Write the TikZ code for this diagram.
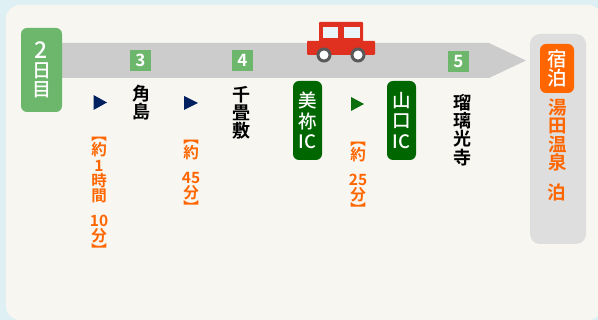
\documentclass[tikz,border=0pt]{standalone}
\usepackage{fontspec}
\setmainfont{Noto Sans CJK JP}
\newfontfamily\boldjp{Noto Sans CJK JP Bold}
\newfontfamily\mediumjp{Noto Sans CJK JP Medium}
\definecolor{skyback}{HTML}{DFF0F5}
\definecolor{panelback}{HTML}{F7F6F1}
\definecolor{daygreen}{HTML}{6DB76D}
\definecolor{icgreen}{HTML}{006600}
\definecolor{navyhead}{HTML}{00205F}
\definecolor{stayorange}{HTML}{FF6600}
\definecolor{carred}{HTML}{E03020}
\tikzset{
	daytext/.style={text=white, align=center, font=\fontsize{19}{19}\mediumjp, inner sep=0pt},
	stoptext/.style={text=black, align=center, font=\fontsize{18}{18.2}\boldjp, inner sep=0pt},
	numbox/.style={fill=daygreen, text=white, minimum size=21pt, inner sep=0pt, font=\fontsize{17}{17}\boldjp},
	icbox/.style={fill=icgreen, text=white, rounded corners=6pt, minimum width=29pt, minimum height=79pt, inner sep=0pt, align=center, font=\fontsize{18.5}{20.5}\mediumjp},
	timetext/.style={text=stayorange, align=center, font=\fontsize{15.5}{15.3}\boldjp, inner sep=0pt},
	staytext/.style={text=stayorange, align=center, font=\fontsize{18.5}{18.6}\boldjp, inner sep=0pt}
}
\begin{document}
\begin{tikzpicture}[x=1pt, y=-1pt]
		%%%%% START %%%%%
		\useasboundingbox (0, 0) rectangle (598, 320);
		\fill[skyback] (0, 0) rectangle (598, 320);
		\fill[panelback, rounded corners=14pt] (6, 5) rectangle (602, 320);
		
		\fill[black!20] (62, 43) -- (489, 43) -- (526, 60.5) -- (489, 78) -- (62, 78) -- cycle;
		
		\node[daytext, fill=daygreen, rounded corners=6pt, minimum width=41pt, minimum height=84pt] (day) at (41.5, 70) {{\fontsize{23}{19}\selectfont 2}\\日\\目};
		
		\node[numbox] (numthree) at (140.5, 60.5) {3};
		\node[numbox] (numfour) at (242.5, 60.5) {4};
		\node[numbox] (numfive) at (458.5, 61.5) {5};
		
		\fill[navyhead] (93.5, 95) -- (107, 102.5) -- (93.5, 110) -- cycle;
		\fill[navyhead] (184, 96) -- (198, 103) -- (184, 110) -- cycle;
		\fill[icgreen!95!white] (351, 97) -- (364, 104) -- (351, 111) -- cycle;
		
		\node[stoptext] (tsunoshima) at (141, 103) {角\\島};
		\node[stoptext] (senjojiki) at (241, 113) {千\\畳\\敷};
		\node[stoptext] (ruriko) at (462.5, 130) {瑠\\璃\\光\\寺};
		
		\node[icbox] (mine) at (307.5, 120.5) {美\\祢\\IC};
		\node[icbox] (yamaguchi) at (401.5, 120.5) {山\\口\\IC};
		
		\node[timetext] (timeone) at (99, 197) {︻\\約\\1\\時\\間\\[9pt]10\\分\\︼};
		\node[timetext] (timetwo) at (191, 177) {︻\\約\\[9pt]45\\分\\︼};
		\node[timetext] (timethree) at (358, 179) {︻\\約\\[9pt]25\\分\\︼};
		
		\fill[black!13, rounded corners=10pt] (530, 34) rectangle (586, 244);
		\node[daytext, fill=stayorange, rounded corners=6pt, minimum width=34pt, minimum height=49pt, font=\fontsize{19.5}{19.5}\mediumjp] (stay) at (557, 68.5) {宿\\泊};
		\node[staytext] (yuda) at (558, 135) {湯\\田\\温\\泉};
		\node[staytext] (haku) at (557, 192) {泊};
		
		% car
		\fill[carred, rounded corners=1pt] (319, 22) rectangle (363, 44);
		\fill[carred, rounded corners=1pt] (307, 41) rectangle (375, 55);
		\fill[skyback!70!white] (323, 27) rectangle (338, 38);
		\fill[skyback!70!white] (344, 27) rectangle (360, 38);
		\draw[line width=3pt, black!65, fill=white] (324, 55) circle (6);
		\draw[line width=3pt, black!65, fill=white] (358, 55) circle (6);
		
		%%%%% END %%%%%
	\end{tikzpicture}
\end{document}
